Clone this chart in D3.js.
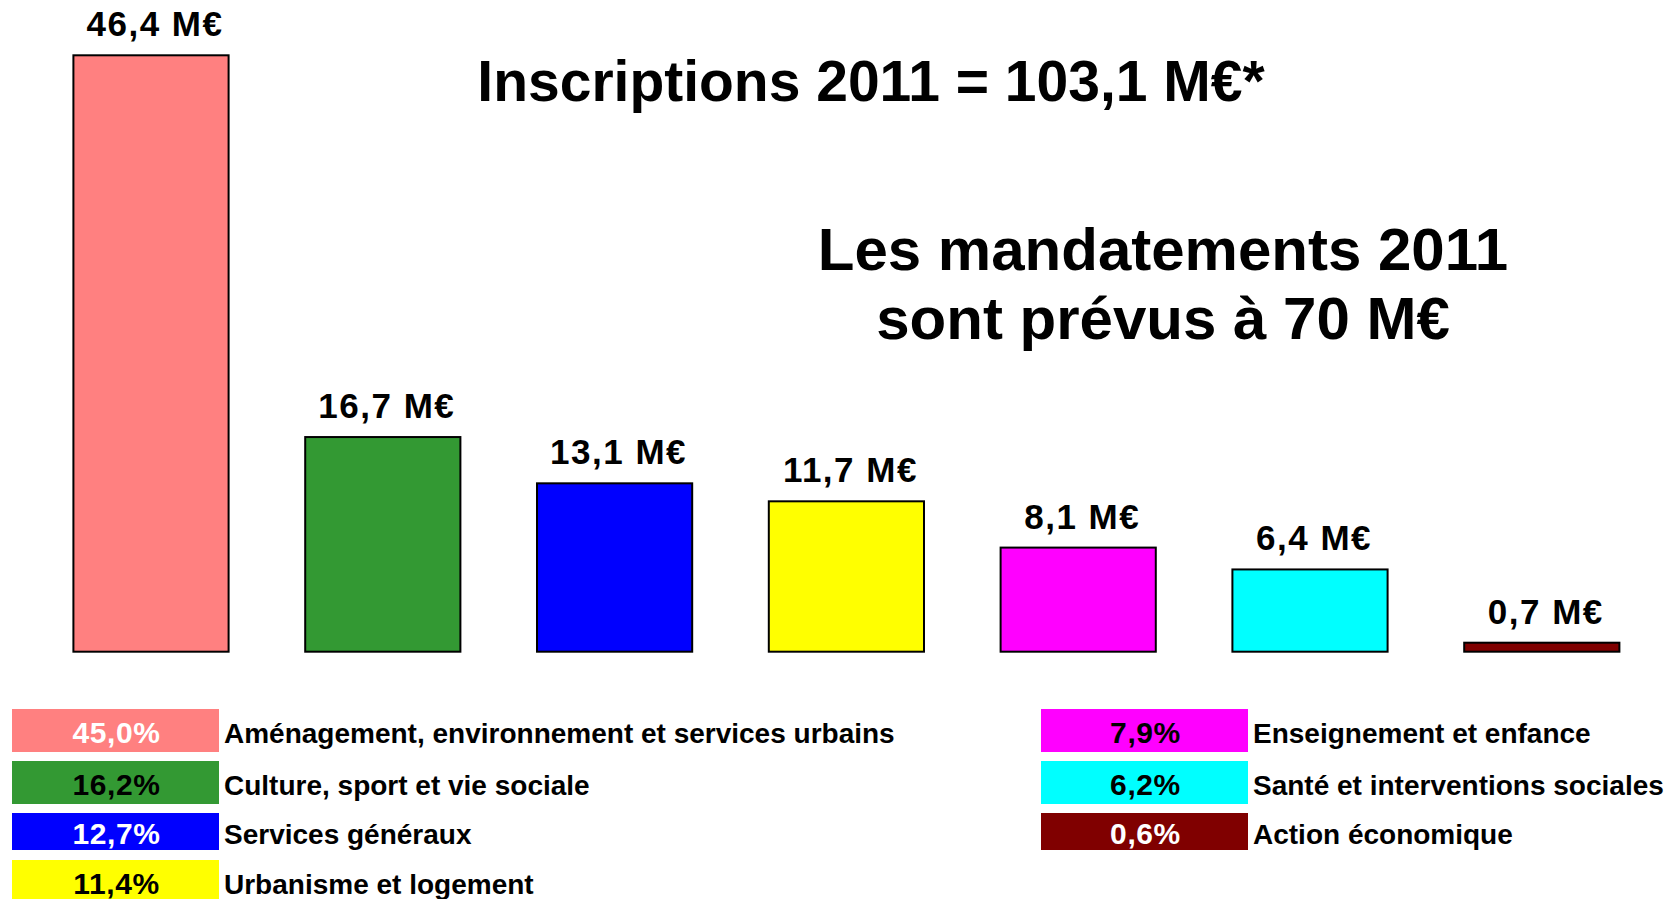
<!DOCTYPE html>
<html>
<head>
<meta charset="utf-8">
<script src="https://cdn.jsdelivr.net/npm/d3@7"></script>
<style>
  html, body { margin: 0; padding: 0; background: #fff; }
  svg { display: block; }
  text { font-family: "Liberation Sans", Arial, sans-serif; font-weight: bold; }
</style>
</head>
<body>
<svg id="chart" width="1667" height="899"></svg>
<script>
// ---- data ----
const categories = [
  "Aménagement, environnement et services urbains",
  "Culture, sport et vie sociale",
  "Services généraux",
  "Urbanisme et logement",
  "Enseignement et enfance",
  "Santé et interventions sociales",
  "Action économique"
];
const values = [46.4, 16.7, 13.1, 11.7, 8.1, 6.4, 0.7];          // M€
const percents = [45.0, 16.2, 12.7, 11.4, 7.9, 6.2, 0.6];        // %
const colors = ["#FF8080", "#339933", "#0000FF", "#FFFF00", "#FF00FF", "#00FFFF", "#800000"];
const pctTextColors = ["#FFFFFF", "#000000", "#FFFFFF", "#000000", "#000000", "#000000", "#FFFFFF"];
const titleText = "Inscriptions 2011 = 103,1 M€*";
const subtitleLines = ["Les mandatements 2011", "sont prévus à 70 M€"];

// ---- layout ----
const svg = d3.select("#chart");
const frLocale = d3.formatLocale({ decimal: ",", thousands: " ", grouping: [3], currency: ["", " €"] });
const fmt1 = frLocale.format(".1f");

const x = d3.scaleBand()
  .domain(categories)
  .range([35.1, 1657.7])
  .paddingInner(0.3305)
  .paddingOuter(0.3305 / 2);

const y = d3.scaleLinear()
  .domain([0, 46.4])
  .range([651.7, 55.3]);

// bars
svg.append("g").selectAll("rect")
  .data(values)
  .join("rect")
  .attr("x", (d, i) => x(categories[i]))
  .attr("y", d => y(d))
  .attr("width", x.bandwidth())
  .attr("height", d => y(0) - y(d))
  .attr("fill", (d, i) => colors[i])
  .attr("stroke", "#000")
  .attr("stroke-width", 2);

// value labels
svg.append("g").selectAll("text")
  .data(values)
  .join("text")
  .attr("x", (d, i) => x(categories[i]) + x.bandwidth() / 2 + 4)
  .attr("y", d => y(d) - 19)
  .attr("text-anchor", "middle")
  .attr("font-size", 35)
  .attr("letter-spacing", 1.5)
  .attr("fill", "#000")
  .text(d => fmt1(d) + " M€");

// title
svg.append("text")
  .attr("x", 871)
  .attr("y", 101)
  .attr("text-anchor", "middle")
  .attr("font-size", 57)
  .attr("fill", "#000")
  .text(titleText);

// subtitle
svg.append("text")
  .attr("text-anchor", "middle")
  .attr("font-size", 60)
  .attr("fill", "#000")
  .selectAll("tspan")
  .data(subtitleLines)
  .join("tspan")
  .attr("x", 1163)
  .attr("y", (d, i) => 269.5 + i * 69)
  .text(d => d);

// legend
const colX = [12, 1041];
const boxW = 207;
const rowTop = [709, 761, 813, 860];
const rowH = [43, 43, 37, 43];
const legendItems = categories.map((c, i) => ({
  label: c, pct: percents[i], color: colors[i], tcolor: pctTextColors[i],
  col: i < 4 ? 0 : 1, row: i < 4 ? i : i - 4
}));

const lg = svg.append("g").selectAll("g")
  .data(legendItems)
  .join("g");

lg.append("rect")
  .attr("x", d => colX[d.col])
  .attr("y", d => rowTop[d.row])
  .attr("width", boxW)
  .attr("height", d => rowH[d.row])
  .attr("fill", d => d.color);

lg.append("text")
  .attr("x", d => colX[d.col] + boxW / 2 + 1)
  .attr("y", d => rowTop[d.row] + rowH[d.row] / 2 + 12)
  .attr("text-anchor", "middle")
  .attr("font-size", 30)
  .attr("letter-spacing", 0.6)
  .attr("fill", d => d.tcolor)
  .text(d => fmt1(d.pct) + "%");

lg.append("text")
  .attr("x", d => colX[d.col] + boxW + 5)
  .attr("y", d => rowTop[d.row] + rowH[d.row] / 2 + 12)
  .attr("text-anchor", "start")
  .attr("font-size", 28)
  .attr("fill", "#000")
  .text(d => d.label);
</script>
</body>
</html>
